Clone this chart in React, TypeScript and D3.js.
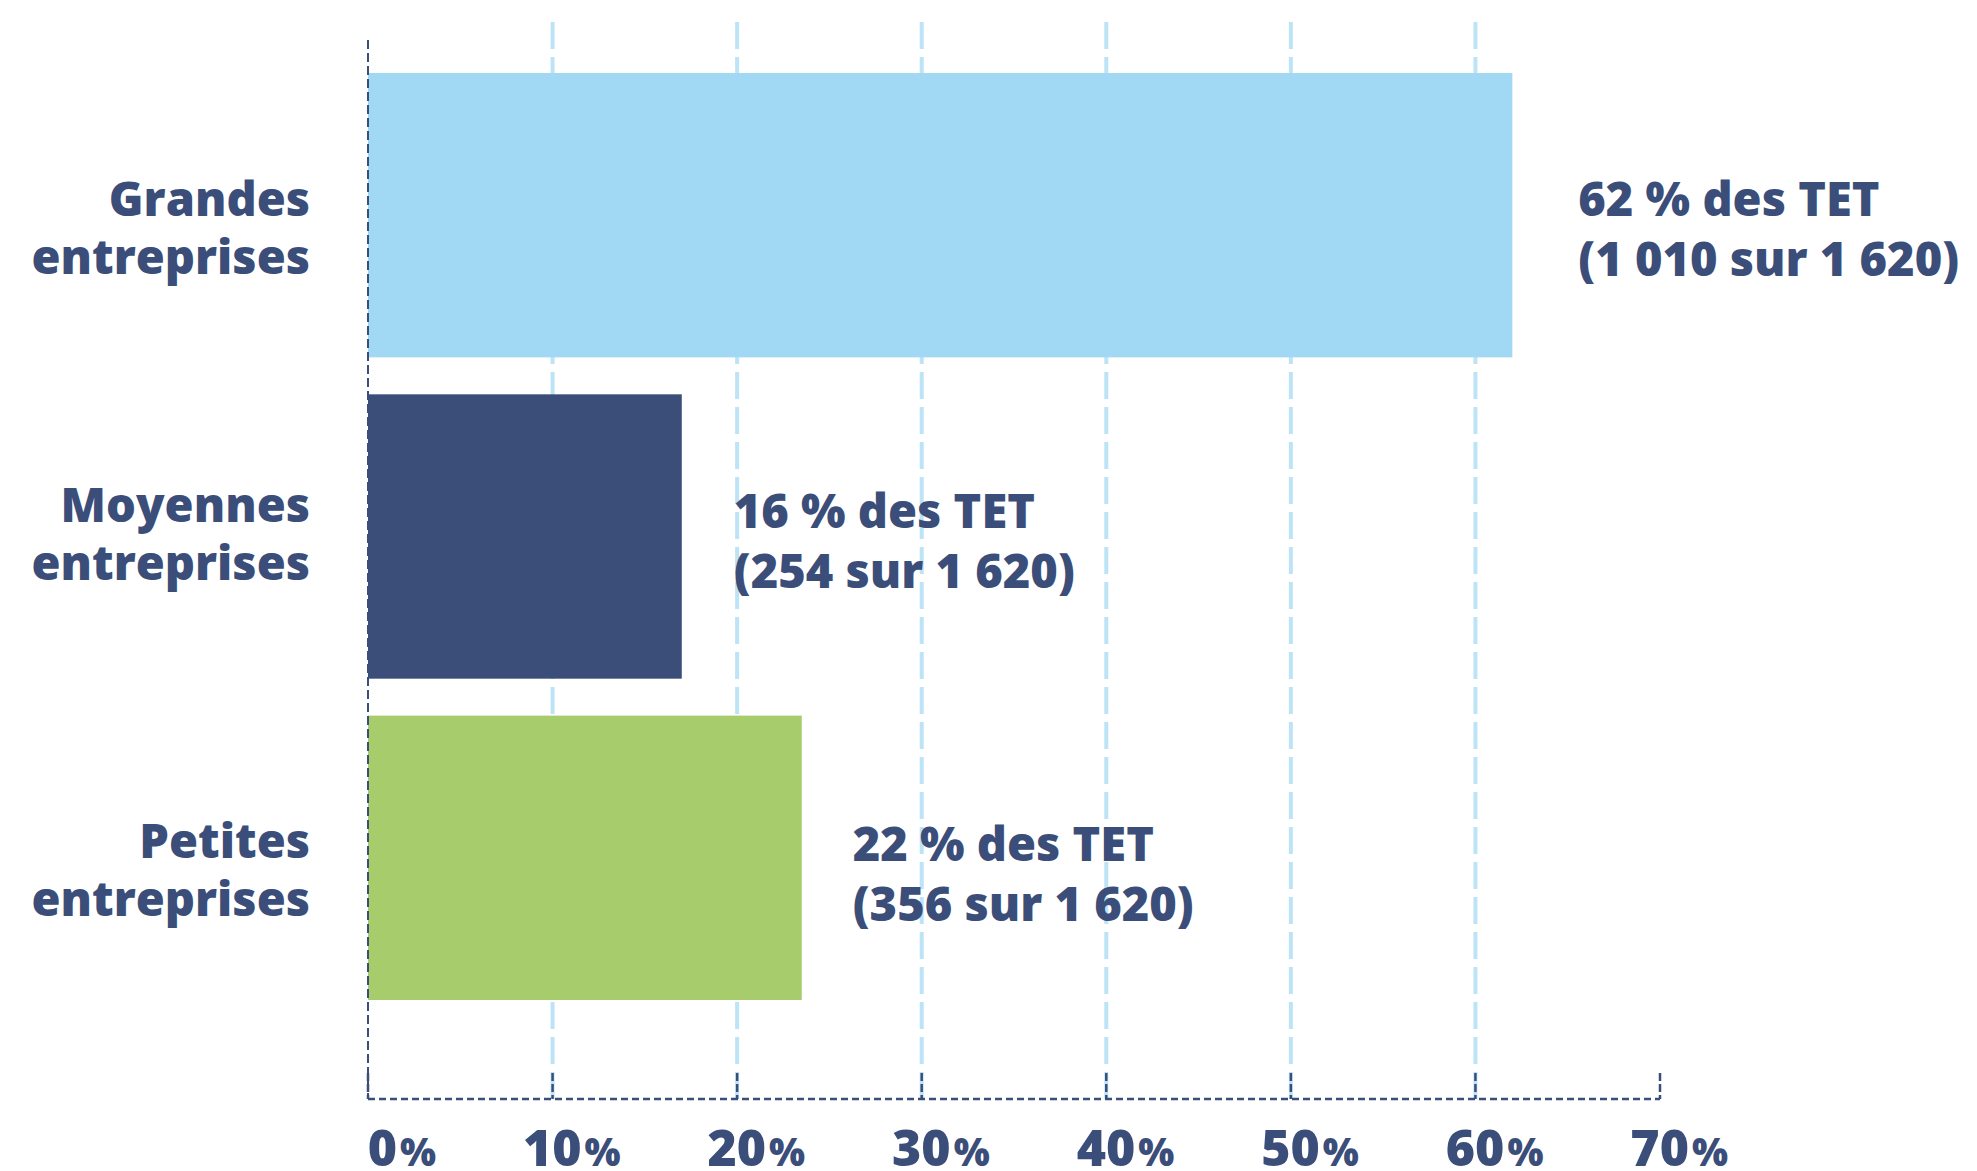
import React from "react";
import * as d3 from "d3";

const categories = ["Grandes entreprises", "Moyennes entreprises", "Petites entreprises"];
const barValues = [62, 17, 23.5];
const labelLine1 = ["62 % des TET", "16 % des TET", "22 % des TET"];
const labelLine2 = ["(1 010 sur 1 620)", "(254 sur 1 620)", "(356 sur 1 620)"];
const barColors = ["#a1d9f4", "#3b4e7a", "#a7cc6b"];
const tickValues = [0, 10, 20, 30, 40, 50, 60, 70];

// layout nudges (pixels) for the labels of each row, as seen in the reference
const catLabelDy = [1, -15, 0];
const valLabelDy = [1, -9, 3];
const valLabelDx = [66, 52, 51];

const W = 1977;
const H = 1171;
const TEXT = "#3b4e7a";
const GRID = "#bde3f6";
const FONT = "'Open Sans', 'DejaVu Sans', sans-serif";

export default function App() {
  const x = d3.scaleLinear().domain([0, 70]).range([368, 1660]);
  const y = d3.scaleBand<string>().domain(categories).range([73, 1000]).paddingInner(0.115).paddingOuter(0);
  const axisY = 1099;
  const axisTop = 40;
  const gridTop = 22;

  return (
    <svg width={W} height={H} style={{ position: "absolute", left: 0, top: 0, background: "#fff" }} fontFamily={FONT}>
      {tickValues.filter((t) => t > 0 && t < 70).map((t) => (
        <line key={"g" + t} x1={x(t)} x2={x(t)} y1={gridTop} y2={axisY} stroke={GRID} strokeWidth={4} strokeDasharray="27,8" />
      ))}
      {categories.map((c, i) => (
        <rect key={c} x={x(0)} y={y(c)} width={x(barValues[i]) - x(0)} height={y.bandwidth()} fill={barColors[i]} />
      ))}
      <line x1={x(0)} x2={x(0)} y1={axisTop} y2={axisY} stroke={TEXT} strokeWidth={2} strokeDasharray="9,4" />
      <line x1={x(0)} x2={x(70)} y1={axisY} y2={axisY} stroke={TEXT} strokeWidth={2.5} strokeDasharray="7,4" />
      {tickValues.map((t) => (
        <line key={"t" + t} x1={x(t)} x2={x(t)} y1={1073} y2={axisY} stroke={TEXT} strokeWidth={2.5} strokeDasharray="8,3" />
      ))}
      {tickValues.map((t) => (
        <text key={"l" + t} x={x(t) + 68} y={1166} textAnchor="end" fill={TEXT} fontSize={50} fontWeight={800}>
          {t}
          <tspan fontSize={38} dx={3}>%</tspan>
        </text>
      ))}
      {categories.map((c, i) => {
        const cy = (y(c) as number) + y.bandwidth() / 2 + catLabelDy[i];
        const parts = c.split(" ");
        return (
          <g key={"c" + c}>
            <text x={310} y={cy} textAnchor="end" fill={TEXT} fontSize={47} fontWeight={800}>{parts[0]}</text>
            <text x={310} y={cy + 58} textAnchor="end" fill={TEXT} fontSize={47} fontWeight={800}>{parts[1]}</text>
          </g>
        );
      })}
      {categories.map((c, i) => {
        const cy = (y(c) as number) + y.bandwidth() / 2 + valLabelDy[i];
        const lx = x(barValues[i]) + valLabelDx[i];
        return (
          <g key={"v" + c}>
            <text x={lx} y={cy} fill={TEXT} fontSize={47} fontWeight={800}>{labelLine1[i]}</text>
            <text x={lx} y={cy + 60} fill={TEXT} fontSize={47} fontWeight={800}>{labelLine2[i]}</text>
          </g>
        );
      })}
    </svg>
  );
}
